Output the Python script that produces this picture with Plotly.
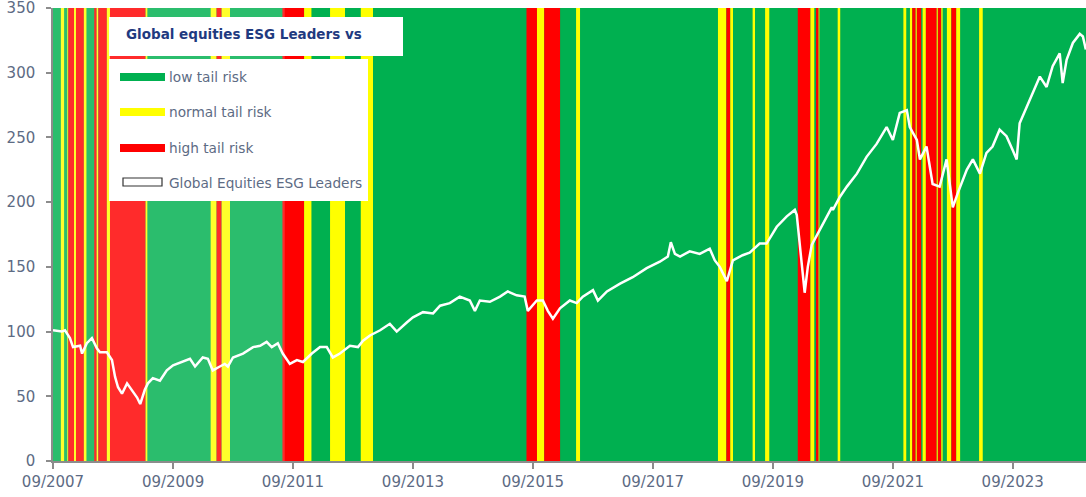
import plotly.graph_objects as go

# ---------------- data ----------------
# Tail-risk regime segments: start date of each segment and its regime
regime_starts = [
    "2007-09-01", "2007-10-19", "2007-11-09", "2007-11-27", "2007-12-03", "2008-01-07",
    "2008-01-19", "2008-03-07", "2008-03-24", "2008-05-09", "2008-05-24", "2008-06-03",
    "2008-07-25", "2008-08-13", "2009-03-18", "2009-03-30", "2010-04-18", "2010-05-24",
    "2010-06-24", "2010-08-14", "2011-06-29", "2011-11-08", "2011-12-24", "2012-04-14",
    "2012-07-14", "2012-10-18", "2013-01-01", "2015-07-24", "2015-09-26", "2015-11-09",
    "2016-02-15", "2016-05-21", "2016-06-15", "2018-10-02", "2018-11-22", "2018-12-16",
    "2019-01-02", "2019-05-01", "2019-05-16", "2019-07-16", "2019-08-12", "2020-01-31",
    "2020-04-17", "2020-05-12", "2020-05-21", "2020-06-06", "2020-06-12", "2020-09-30",
    "2020-10-17", "2021-11-04", "2021-11-23", "2021-12-14", "2021-12-28", "2022-01-18",
    "2022-01-25", "2022-02-22", "2022-03-01", "2022-03-21", "2022-05-26", "2022-06-02",
    "2022-06-23", "2022-07-02", "2022-07-27", "2022-08-23", "2022-09-22", "2022-10-17",
    "2023-02-08", "2023-03-03",
]
regime_levels = [
    "low", "normal", "low", "normal", "high", "normal",
    "high", "normal", "low", "high", "normal", "high",
    "normal", "high", "normal", "low", "normal", "high",
    "normal", "low", "high", "normal", "low", "normal",
    "low", "normal", "low", "high", "normal", "high",
    "low", "normal", "low", "normal", "high", "normal",
    "low", "normal", "low", "normal", "low", "high",
    "normal", "low", "high", "normal", "low", "normal",
    "low", "normal", "low", "normal", "high", "normal",
    "high", "low", "normal", "high", "normal", "high",
    "normal", "low", "normal", "high", "normal", "low",
    "normal", "low",
]
series_end = "2024-11-20"

# Global Equities ESG Leaders index level
index_dates = [
    "2007-09-01", "2007-10-25", "2007-11-13", "2007-12-13", "2008-01-01", "2008-02-13",
    "2008-02-25", "2008-03-25", "2008-04-25", "2008-05-25", "2008-06-13", "2008-07-25",
    "2008-08-25", "2008-09-13", "2008-10-01", "2008-10-25", "2008-11-25", "2008-12-25",
    "2009-01-25", "2009-02-13", "2009-03-13", "2009-04-01", "2009-05-01", "2009-06-13",
    "2009-07-25", "2009-09-01", "2009-10-25", "2009-12-13", "2010-01-13", "2010-03-01",
    "2010-04-01", "2010-05-01", "2010-06-13", "2010-07-13", "2010-08-01", "2010-09-01",
    "2010-11-01", "2011-01-01", "2011-02-13", "2011-03-25", "2011-04-25", "2011-06-01",
    "2011-07-01", "2011-08-13", "2011-09-25", "2011-11-01", "2011-12-25", "2012-02-13",
    "2012-03-25", "2012-05-01", "2012-06-13", "2012-08-13", "2012-10-01", "2012-11-01",
    "2012-12-13", "2013-02-13", "2013-04-13", "2013-05-25", "2013-07-25", "2013-09-01",
    "2013-11-01", "2014-01-01", "2014-02-13", "2014-04-13", "2014-06-13", "2014-08-13",
    "2014-09-13", "2014-10-13", "2014-12-13", "2015-02-13", "2015-04-01", "2015-05-25",
    "2015-07-13", "2015-08-01", "2015-09-25", "2015-11-01", "2015-12-01", "2016-01-01",
    "2016-02-13", "2016-04-13", "2016-05-25", "2016-07-01", "2016-09-01", "2016-10-01",
    "2016-11-25", "2017-02-13", "2017-05-01", "2017-07-25", "2017-10-13", "2017-12-01",
    "2017-12-19", "2018-01-13", "2018-02-13", "2018-04-13", "2018-06-13", "2018-08-13",
    "2018-09-13", "2018-10-13", "2018-11-25", "2019-01-01", "2019-03-01", "2019-04-13",
    "2019-06-13", "2019-07-25", "2019-09-25", "2019-11-25", "2020-01-13", "2020-01-25",
    "2020-03-13", "2020-04-01", "2020-04-25", "2020-06-25", "2020-08-25", "2020-09-01",
    "2020-10-13", "2020-11-25", "2021-01-25", "2021-03-25", "2021-05-25", "2021-07-25",
    "2021-09-01", "2021-10-13", "2021-11-25", "2021-12-13", "2022-01-25", "2022-02-13",
    "2022-03-25", "2022-05-01", "2022-06-13", "2022-07-25", "2022-09-01", "2022-10-01",
    "2022-11-25", "2023-01-01", "2023-02-13", "2023-03-25", "2023-05-01", "2023-06-13",
    "2023-07-25", "2023-09-01", "2023-09-25", "2023-10-13", "2023-11-25", "2024-01-01",
    "2024-02-13", "2024-03-25", "2024-05-01", "2024-06-13", "2024-07-01", "2024-07-25",
    "2024-09-01", "2024-10-13", "2024-11-01", "2024-11-19",
]
index_values = [
    101, 100, 101, 95, 88, 89,
    83, 91, 95, 87, 84, 84,
    78, 65, 57, 52, 60, 55,
    49, 44, 55, 60, 64, 62,
    70, 74, 76.5, 79, 73, 80,
    79, 70, 73, 75, 73, 80,
    83, 88, 89, 92, 88, 91,
    83, 75, 78, 76.5, 83, 88,
    88, 80, 83, 89, 88, 93,
    97, 101, 106, 100, 107, 111,
    115, 114, 120, 122, 127, 124,
    116, 124, 123, 127, 131, 128,
    127, 116, 124, 124, 116, 110,
    118, 124, 122, 127, 132, 124,
    131, 137, 142, 149, 154, 158,
    169, 160, 158, 162, 160, 164,
    155, 150, 139, 155, 159, 161,
    168, 168, 181, 189, 194, 190,
    130, 150, 167, 181, 196, 194,
    204, 212, 222, 235, 245, 258,
    248, 269, 271, 258, 248, 233,
    243, 214, 212, 233, 196, 207,
    225, 233, 222, 238, 243, 256,
    251, 240, 233, 261, 274, 284,
    297, 289, 305, 315, 292, 310,
    323, 330, 328, 318,
]

tick_dates = ["2007-09-01", "2009-09-01", "2011-09-01", "2013-09-01", "2015-09-01",
              "2017-09-01", "2019-09-01", "2021-09-01", "2023-09-01"]
tick_labels = ["09/2007", "09/2009", "09/2011", "09/2013", "09/2015",
               "09/2017", "09/2019", "09/2021", "09/2023"]

legend_labels = ["low tail risk", "normal tail risk", "high tail risk", "Global Equities ESG Leaders"]
title_text = "Global equities ESG Leaders vs"

# ---------------- styling ----------------
W, H = 1086, 497
ML, MR, MT, MB = 53, 0, 8, 36
PW, PH = W - ML - MR, H - MT - MB
regime_colors = {"low": "#00B050", "normal": "#FFFF00", "high": "#FF0000"}
faded_until = "2011-07-13"
label_color = "#5d6b84"
FONT = "DejaVu Sans"


def px(x):
    return (x - ML) / PW


def py(y):
    return (H - MB - y) / PH


shapes = []
ends = regime_starts[1:] + [series_end]
for s, e, lv in zip(regime_starts, ends, regime_levels):
    shapes.append(dict(type="rect", xref="x", yref="paper", x0=s, x1=e, y0=0, y1=1,
                       fillcolor=regime_colors[lv], line=dict(width=0), layer="below"))
# lighter tone on the early period
shapes.append(dict(type="rect", xref="x", yref="paper", x0=regime_starts[0], x1=faded_until,
                   y0=0, y1=1, fillcolor="rgba(255,255,255,0.17)", line=dict(width=0), layer="below"))

# title box
shapes.append(dict(type="rect", xref="paper", yref="paper", x0=px(109), x1=px(403), y0=py(56), y1=py(17),
                   fillcolor="white", line=dict(width=0), layer="above"))
# legend box
shapes.append(dict(type="rect", xref="paper", yref="paper", x0=px(109), x1=px(368), y0=py(201), y1=py(59),
                   fillcolor="white", line=dict(width=0), layer="above"))

annotations = [dict(xref="paper", yref="paper", x=px(124), y=py(34), xanchor="left", yanchor="middle",
                    text="<b>" + title_text + "</b>", showarrow=False,
                    font=dict(family=FONT, size=13.5, color="#1f3a80"))]

swatch_y = [77, 112, 148]
for lv, yc, lab in zip(["low", "normal", "high"], swatch_y, legend_labels[:3]):
    shapes.append(dict(type="rect", xref="paper", yref="paper", x0=px(120), x1=px(165),
                       y0=py(yc + 4), y1=py(yc - 4), fillcolor=regime_colors[lv],
                       line=dict(width=0), layer="above"))
    annotations.append(dict(xref="paper", yref="paper", x=px(167), y=py(yc), xanchor="left",
                            yanchor="middle", text=lab, showarrow=False,
                            font=dict(family=FONT, size=13.7, color=label_color)))
shapes.append(dict(type="rect", xref="paper", yref="paper", x0=px(123), x1=px(162),
                   y0=py(186), y1=py(178), fillcolor="white",
                   line=dict(width=1.2, color="#333333"), layer="above"))
annotations.append(dict(xref="paper", yref="paper", x=px(167), y=py(183), xanchor="left",
                        yanchor="middle", text=legend_labels[3], showarrow=False,
                        font=dict(family=FONT, size=13.7, color=label_color)))

fig = go.Figure()
fig.add_trace(go.Scatter(x=index_dates, y=index_values, mode="lines",
                         line=dict(color="white", width=2.5), name=legend_labels[3],
                         showlegend=False, hoverinfo="x+y"))

fig.update_layout(
    width=W, height=H,
    margin=dict(l=ML, r=MR, t=MT, b=MB, pad=0, autoexpand=False),
    paper_bgcolor="white", plot_bgcolor="#00B050",
    showlegend=False,
    shapes=shapes, annotations=annotations,
    font=dict(family=FONT, color=label_color),
    xaxis=dict(type="date", range=[regime_starts[0], series_end], tickmode="array",
               tickvals=tick_dates, ticktext=tick_labels, showgrid=False, zeroline=False,
               automargin=False, ticklabeloverflow="allow",
               ticks="outside", ticklen=6, tickwidth=1.5, tickcolor="#8c8c8c",
               showline=True, linecolor="#8c8c8c", linewidth=1.5,
               tickfont=dict(family=FONT, size=15, color=label_color)),
    yaxis=dict(range=[0, 350], tickmode="array", tickvals=[0, 50, 100, 150, 200, 250, 300, 350],
               showgrid=False, zeroline=False, automargin=False, ticklabeloverflow="allow",
               ticks="outside", ticklen=5, tickwidth=1.5, tickcolor="#8c8c8c",
               showline=True, linecolor="#8c8c8c", linewidth=1.5,
               ticklabelstandoff=8,
               tickfont=dict(family=FONT, size=15, color=label_color)),
)

fig.write_html("out.html", config={"displayModeBar": False},
               post_script="document.body.style.margin='0';document.body.style.overflow='hidden';")
